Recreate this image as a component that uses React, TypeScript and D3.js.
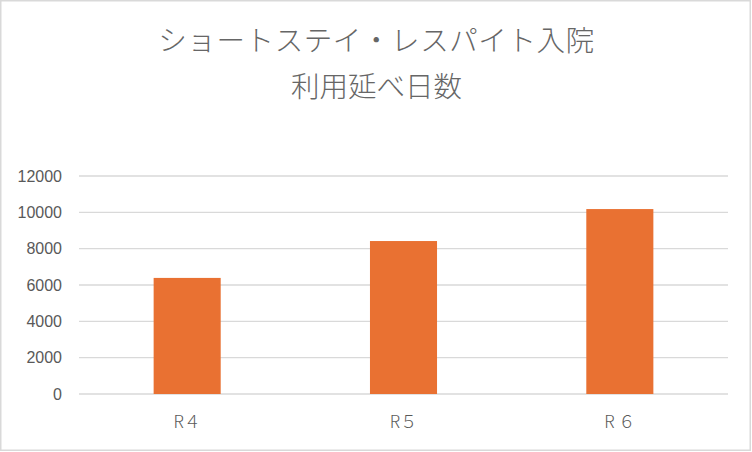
import React from 'react';
import * as d3 from 'd3';

const categories = ['R４', 'R５', 'R ６'];
const values = [6390, 8420, 10180];
const yTicks = [0, 2000, 4000, 6000, 8000, 10000, 12000];
const titleLines = ['ショートステイ・レスパイト入院', '利用延べ日数'];

const W = 752;
const H = 452;
const plot = { left: 79, right: 728, top: 176, bottom: 394 };

export default function App() {
  const x = d3.scaleBand<string>()
    .domain(categories)
    .range([plot.left, plot.right])
    .paddingInner(0.69)
    .paddingOuter(0.345);

  const y = d3.scaleLinear()
    .domain([0, 12000])
    .range([plot.bottom, plot.top]);

  const grey = '#595959';
  const jp = '"Noto Sans CJK JP", "Noto Sans", sans-serif';

  return (
    <svg
      width={W}
      height={H}
      style={{ position: 'absolute', left: 0, top: 0, background: '#fff' }}
    >
      <rect x={0.75} y={0.75} width={749.5} height={449.5} fill="#fff" stroke="#d9d9d9" strokeWidth={1.5} />

      {/* title */}
      {titleLines.map((t, i) => (
        <text
          key={t}
          x={W / 2 + 0.5}
          y={51 + i * 46}
          textAnchor="middle"
          fontFamily={jp}
          fontWeight={300}
          fontSize={28.5}
          letterSpacing={i === 0 ? 0.6 : 0}
          fill="#666"
        >
          {t}
        </text>
      ))}

      {/* gridlines */}
      {yTicks.map(t => (
        <line
          key={t}
          x1={plot.left}
          x2={plot.right}
          y1={y(t)}
          y2={y(t)}
          stroke="#d9d9d9"
          strokeWidth={1.3}
        />
      ))}

      {/* y labels */}
      {yTicks.map(t => (
        <text
          key={'l' + t}
          x={62}
          y={y(t)}
          dy="0.36em"
          textAnchor="end"
          fontFamily='"Liberation Sans", Arial, sans-serif'
          fontSize={16}
          fill={grey}
        >
          {t}
        </text>
      ))}

      {/* bars */}
      {categories.map((c, i) => (
        <rect
          key={c}
          x={x(c)}
          y={y(values[i])}
          width={x.bandwidth()}
          height={y(0) - y(values[i])}
          fill="#E97132"
        />
      ))}

      {/* x labels */}
      {categories.map(c => (
        <text
          key={'x' + c}
          x={(x(c) ?? 0) + x.bandwidth() / 2}
          y={428}
          textAnchor="middle"
          fontFamily={jp}
          fontWeight={300}
          fontSize={17}
          fill={grey}
        >
          {c}
        </text>
      ))}
    </svg>
  );
}
